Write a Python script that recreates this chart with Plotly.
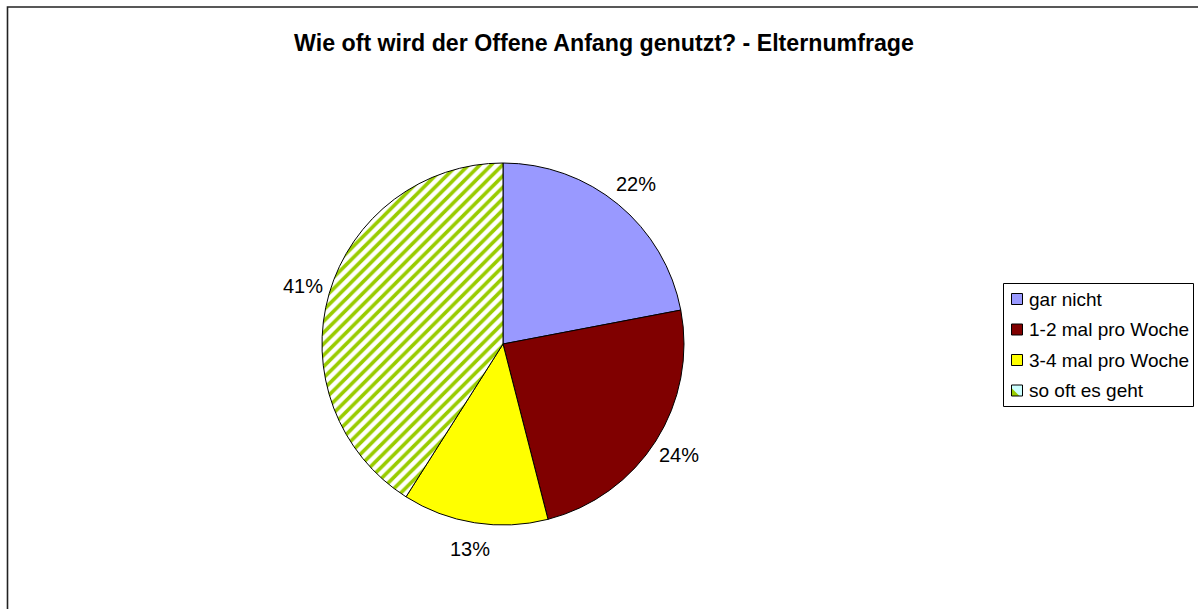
import math
import plotly.graph_objects as go

# Umfragedaten
kategorien = ["gar nicht", "1-2 mal pro Woche", "3-4 mal pro Woche", "so oft es geht"]
anteile = [22, 24, 13, 41]
farben = ["#9999FF", "#800000", "#FFFF00", "#CCFFFF"]
muster = ["", "", "", "/"]
titel = "Wie oft wird der Offene Anfang genutzt? - Elternumfrage"

W, H = 1198, 609
FONT = "Liberation Sans, Arial, sans-serif"

def px(x):
    return x / W

def py(y):
    return 1 - y / H

# pie: centre (503, 344), radius 181 px
cx, cy, r = 503, 344, 181

fig = go.Figure()
fig.add_trace(go.Pie(
    labels=kategorien,
    values=anteile,
    sort=False,
    direction="clockwise",
    rotation=0,
    marker=dict(colors=farben, line=dict(color="black", width=1),
                pattern=dict(shape=muster, fgcolor="#99CC00", size=8, solidity=0.45)),
    textinfo="none",
    domain=dict(x=[px(cx - r), px(cx + r)], y=[py(cy + r), py(cy - r)]),
    showlegend=False,
    hoverinfo="label+percent",
))

shapes = []
annotations = []

# percentage labels, placed a bit outside the slice middle (like Excel)
summe = sum(anteile)
kum = 0
for v in anteile:
    mitte = (kum + v / 2) / summe * 2 * math.pi
    kum += v
    d = r + 27
    annotations.append(dict(text=f"{round(v / summe * 100)}%", xref="paper", yref="paper",
                            x=px(cx + d * math.sin(mitte)), y=py(cy - d * math.cos(mitte)),
                            xanchor="center", yanchor="middle", showarrow=False,
                            font=dict(family=FONT, size=20, color="black")))

# outer chart frame (cut off at right and bottom like the source)
shapes.append(dict(type="path", xref="paper", yref="paper",
                   path=f"M {px(7.5)},{py(640)} L {px(7.5)},{py(7)} L {px(1240)},{py(7)}",
                   line=dict(color="#222222", width=1.6)))

# legend box
lx0, lx1, ly0, ly1 = 1003.5, 1193.5, 283.5, 406.5
shapes.append(dict(type="rect", xref="paper", yref="paper",
                   x0=px(lx0), x1=px(lx1), y0=py(ly1), y1=py(ly0),
                   line=dict(color="black", width=1), fillcolor="white"))
row_y = [299, 329.5, 360, 390.5]
for name, farbe, m, yy in zip(kategorien, farben, muster, row_y):
    sx0, sx1, sy0, sy1 = 1011.5, 1022.5, yy - 5.5, yy + 5.5
    shapes.append(dict(type="rect", xref="paper", yref="paper",
                       x0=px(sx0), x1=px(sx1), y0=py(sy1), y1=py(sy0),
                       fillcolor=farbe, line=dict(width=0)))
    if m:
        shapes.append(dict(type="path", xref="paper", yref="paper",
                           path=f"M {px(sx0)},{py(sy1)} L {px(sx0)},{py(sy0 + 3)} L {px(sx1 - 3)},{py(sy1)} Z",
                           fillcolor="#99CC00", line=dict(width=0)))
    shapes.append(dict(type="rect", xref="paper", yref="paper",
                       x0=px(sx0), x1=px(sx1), y0=py(sy1), y1=py(sy0),
                       line=dict(color="black", width=1)))
    annotations.append(dict(text=name, xref="paper", yref="paper",
                            x=px(1027), y=py(yy), xanchor="left", yanchor="middle",
                            showarrow=False,
                            font=dict(family=FONT, size=19, color="black")))

fig.update_layout(
    width=W, height=H,
    margin=dict(l=0, r=0, t=0, b=0),
    paper_bgcolor="white",
    plot_bgcolor="white",
    title=dict(text="<b>" + titel + "</b>", x=px(604), y=py(43),
               xanchor="center", yanchor="middle",
               font=dict(family=FONT, size=23.2, color="black")),
    shapes=shapes,
    annotations=annotations,
)

# remove the default page margin so the figure sits at (0, 0)
fig.write_html("out.html", config={"displayModeBar": False},
               post_script="document.body.style.margin='0';")
